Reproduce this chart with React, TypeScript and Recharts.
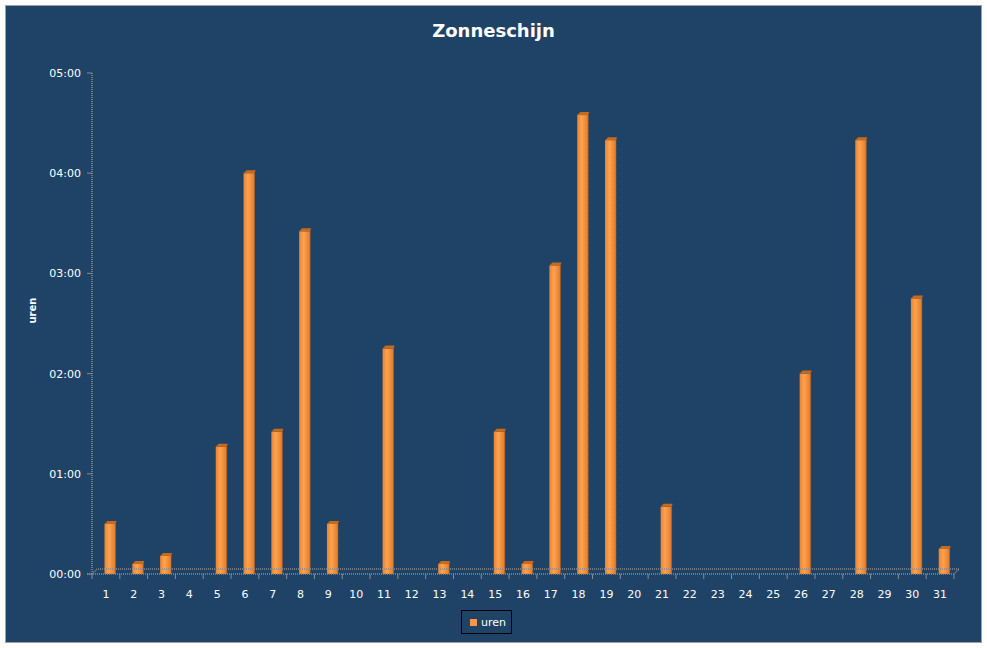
import React from 'react';
import { BarChart, Bar, XAxis, YAxis, Legend, ReferenceLine } from 'recharts';

const days: string[] = Array.from({ length: 31 }, (_, i) => String(i + 1));
const hours: number[] = [
  0.5, 0.1, 0.18, 0, 1.27, 4.0, 1.42, 3.42, 0.5, 0,
  2.25, 0, 0.1, 0, 1.42, 0.1, 3.08, 4.58, 4.33, 0,
  0.67, 0, 0, 0, 0, 2.0, 0, 4.33, 0, 2.75, 0.25,
];
const yTicks: number[] = [0, 1, 2, 3, 4, 5];
const seriesName = 'uren';
const title = 'Zonneschijn';

const data = days.map((d, i) => ({ day: d, uren: hours[i] }));

const BG = '#1F4367';
const AXIS = '#8c8c8c';
const ORANGE = '#F79646';
const FONT = '"DejaVu Sans", Verdana, sans-serif';

const fmt = (v: number) => {
  const h = Math.floor(v);
  const m = Math.round((v - h) * 60);
  return `${String(h).padStart(2, '0')}:${String(m).padStart(2, '0')}`;
};

const Bar3D = (props: any) => {
  const { x, y, width, height } = props;
  if (!height || height <= 0) return null;
  const bx = x + width / 2 - 1;
  const w = 11;
  const d = 3;
  return (
    <g>
      <rect x={bx} y={y} width={w} height={height} fill="url(#barGrad)" />
      <polygon
        points={`${bx},${y} ${bx + d},${y - d} ${bx + w + d - 2},${y - d} ${bx + w},${y}`}
        fill="#C86A1E"
      />
      <line x1={bx + w} y1={y} x2={bx + w} y2={y + height} stroke="#B85F1A" strokeWidth={1} strokeDasharray="1 1" />
    </g>
  );
};

const Floor = (props: any) => {
  const { x1, y1, x2 } = props;
  if (x1 == null || y1 == null) return null;
  const d = 5;
  const n = days.length;
  const step = (x2 - x1) / n;
  const ticks = [];
  for (let k = 0; k <= n; k++) {
    const tx = x1 + k * step;
    ticks.push(<line key={k} x1={tx} y1={y1} x2={tx} y2={y1 + 5} stroke={AXIS} strokeWidth={1} />);
  }
  return (
    <g>
      <polyline
        points={`${x1},${y1} ${x1 + d},${y1 - d} ${x2 + d},${y1 - d} ${x2},${y1}`}
        fill="none"
        stroke={AXIS}
        strokeWidth={1.5}
        strokeDasharray="1 1"
      />
      <line x1={x1 - 5} y1={y1} x2={x2} y2={y1} stroke={AXIS} strokeWidth={1.5} strokeDasharray="1 1" />
      {ticks}
    </g>
  );
};

const LegendBox = () => (
  <div
    style={{
      display: 'inline-flex',
      alignItems: 'center',
      border: '1px solid #000',
      padding: '3px 5px 3px 8px',
      height: 16,
      fontFamily: FONT,
      fontSize: 11,
      color: '#fff',
    }}
  >
    <span style={{ width: 7, height: 7, background: ORANGE, display: 'inline-block', marginRight: 4 }} />
    {seriesName}
  </div>
);

export default function App() {
  return (
    <div
      style={{
        position: 'absolute',
        left: 5,
        top: 5,
        width: 975,
        height: 636,
        background: BG,
        border: '1px solid #a0a0a0',
      }}
    >
      <div
        style={{
          position: 'absolute',
          top: 14,
          left: 0,
          width: 975,
          textAlign: 'center',
          fontFamily: FONT,
          fontWeight: 'bold',
          fontSize: 18,
          color: '#fff',
        }}
      >
        {title}
      </div>
      <BarChart
        width={975}
        height={636}
        data={data}
        margin={{ top: 67, right: 27, left: 0, bottom: 8 }}
        barCategoryGap={0}
      >
        <defs>
          <linearGradient id="barGrad" x1="0" y1="0" x2="1" y2="0">
            <stop offset="0%" stopColor="#E8842F" />
            <stop offset="40%" stopColor="#FFA24F" />
            <stop offset="100%" stopColor="#E07B28" />
          </linearGradient>
        </defs>
        <XAxis
          dataKey="day"
          height={36}
          axisLine={false}
          tickLine={false}
          interval={0}
          tick={{ fill: '#fff', fontSize: 11, fontFamily: FONT }}
          tickMargin={10}
        />
        <YAxis
          width={86}
          domain={[0, 5]}
          ticks={yTicks}
          tickFormatter={fmt}
          axisLine={{ stroke: AXIS, strokeWidth: 1.5, strokeDasharray: '1 1' }}
          tickLine={{ stroke: AXIS }}
          tickSize={5}
          tickMargin={6}
          tick={{ fill: '#fff', fontSize: 11, fontFamily: FONT }}
          label={{
            value: 'uren',
            angle: -90,
            position: 'insideLeft',
            offset: 26,
            fill: '#fff',
            fontSize: 10,
            fontWeight: 'bold',
            fontFamily: FONT,
          }}
        />
        <ReferenceLine y={0} ifOverflow="visible" shape={<Floor />} />
        <Bar dataKey="uren" name={seriesName} barSize={11} isAnimationActive={false} shape={<Bar3D />} />
        <Legend
          verticalAlign="bottom"
          align="left"
          height={24}
          content={<LegendBox />}
          wrapperStyle={{ left: 455, width: 'auto' }}
        />
      </BarChart>
    </div>
  );
}
